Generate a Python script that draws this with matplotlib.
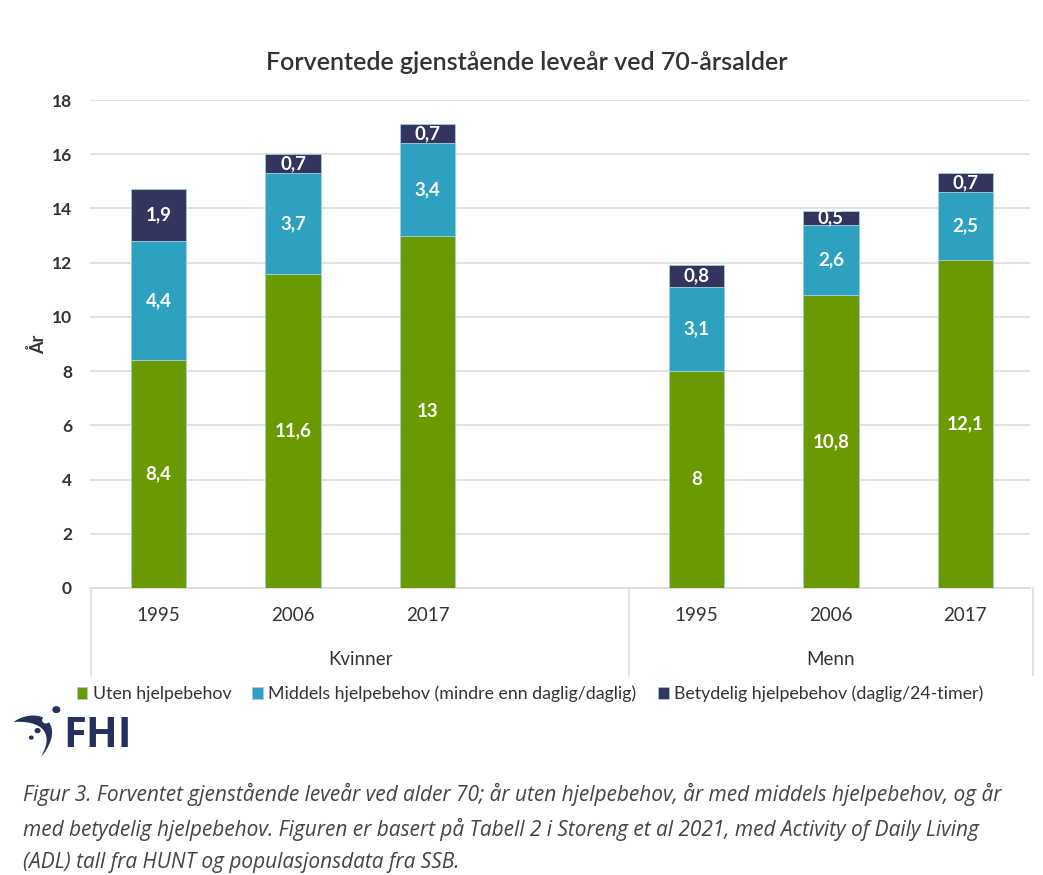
import numpy as np
import matplotlib.pyplot as plt
from matplotlib.patches import Circle, PathPatch
from matplotlib.path import Path

years = ['1995', '2006', '2017', '1995', '2006', '2017']
groups = ['Kvinner', 'Menn']
uten = [8.4, 11.6, 13, 8, 10.8, 12.1]
middels = [4.4, 3.7, 3.4, 3.1, 2.6, 2.5]
betydelig = [1.9, 0.7, 0.7, 0.8, 0.5, 0.7]
labels = ['Uten hjelpebehov', 'Middels hjelpebehov (mindre enn daglig/daglig)',
          'Betydelig hjelpebehov (daglig/24-timer)']
colors = ['#6b9a00', '#2ea1c1', '#33355e']

plt.rcParams['font.family'] = ['Lato', 'DejaVu Sans']
txt = '#333333'

fig = plt.figure(figsize=(10.43, 8.75), dpi=100)
ax = fig.add_axes([0.0863, 0.328, 0.9012, 0.5577])

pos = np.array([0, 1, 2, 4, 5, 6])
w = 0.41
b1 = ax.bar(pos, uten, w, color=colors[0], edgecolor='#9fd0e0', linewidth=0.6, label=labels[0], zorder=3)
b2 = ax.bar(pos, middels, w, bottom=uten, color=colors[1], edgecolor='#9fd0e0', linewidth=0.6, label=labels[1], zorder=3)
bot3 = np.array(uten) + np.array(middels)
b3 = ax.bar(pos, betydelig, w, bottom=bot3, color=colors[2], edgecolor='#9fd0e0', linewidth=0.6, label=labels[2], zorder=3)

def fmt(v):
    return ('%g' % v).replace('.', ',')

for bars, vals in [(b1, uten), (b2, middels), (b3, betydelig)]:
    ax.bar_label(bars, labels=[fmt(v) for v in vals], label_type='center',
                 color='white', fontsize=13.5, fontweight='bold')

ax.set_xlim(-0.51, 6.48)
ax.set_ylim(0, 18)
ax.set_yticks(range(0, 19, 2))
ax.tick_params(axis='y', length=0, labelsize=12.5, labelcolor=txt, pad=13)
for t in ax.get_yticklabels():
    t.set_fontweight('bold')
ax.set_xticks(pos)
ax.set_xticklabels(years, fontsize=13.5, color=txt)
ax.tick_params(axis='x', length=0, pad=14)
ax.grid(axis='y', color='#dddddd', linewidth=1.2, zorder=0)
for s in ['top', 'right', 'left']:
    ax.spines[s].set_visible(False)
ax.spines['bottom'].set_color('#dddddd')
ax.spines['bottom'].set_linewidth(1.2)

ax.set_ylabel('År', fontsize=13, color=txt, fontweight='bold')
ax.yaxis.set_label_coords(-0.046, 0.5)

# group labels and separators below the axis
for xs in [-0.5, 3.5, 6.5]:
    ax.plot([xs, xs], [0, -3.2], color='#dddddd', linewidth=1.2, clip_on=False, zorder=1)
ax.text(1.5, -2.65, groups[0], ha='center', va='center', fontsize=13.5, color=txt)
ax.text(5.0, -2.65, groups[1], ha='center', va='center', fontsize=13.5, color=txt)

fig.text(0.505, 0.929, 'Forventede gjenstående leveår ved 70-årsalder', ha='center', va='center',
         fontsize=18, color=txt, fontweight='semibold')

fig.legend(handles=[b1, b2, b3], labels=labels, loc='center', bbox_to_anchor=(0.508, 0.207),
           ncol=3, frameon=False, fontsize=12.8, handlelength=0.6, handleheight=0.6,
           handletextpad=0.3, columnspacing=1.2, labelcolor=txt)

# FHI logo
lax = fig.add_axes([0.005, 0.125, 0.13, 0.07])
lax.set_xlim(0, 130)
lax.set_ylim(0, 70)
lax.axis('off')
navy = '#26305f'
verts = [(8, 50), (25, 64), (50, 58), (44, 30), (40, 16), (34, 10), (34, 10),
         (44, 28), (44, 52), (8, 50)]
codes = [Path.MOVETO, Path.CURVE4, Path.CURVE4, Path.CURVE4, Path.CURVE3, Path.CURVE3, Path.LINETO,
         Path.CURVE4, Path.CURVE4, Path.CURVE4]
lax.add_patch(PathPatch(Path(verts, codes), facecolor=navy, edgecolor='none'))
lax.add_patch(Circle((49, 64), 3.2, color=navy))
lax.add_patch(Circle((39, 52), 3.0, color='white'))
lax.add_patch(Circle((31, 40), 2.2, color=navy))
lax.add_patch(Circle((25, 32), 1.6, color=navy))
lax.text(56, 33, 'FHI', fontsize=30, fontweight='bold', color=navy, va='center', ha='left',
         family=['Open Sans', 'DejaVu Sans'])

cap = ('Figur 3. Forventet gjenstående leveår ved alder 70; år uten hjelpebehov, år med middels hjelpebehov, og år\n'
       'med betydelig hjelpebehov. Figuren er basert på Tabell 2 i Storeng et al 2021, med Activity of Daily Living\n'
       '(ADL) tall fra HUNT og populasjonsdata fra SSB.')
fig.text(0.022, 0.0537, cap, ha='left', va='center', fontsize=15.0, style='italic', color='#444444',
         linespacing=1.66, family=['Open Sans', 'DejaVu Sans'])

fig.savefig('out.png', dpi=100, facecolor='white')
